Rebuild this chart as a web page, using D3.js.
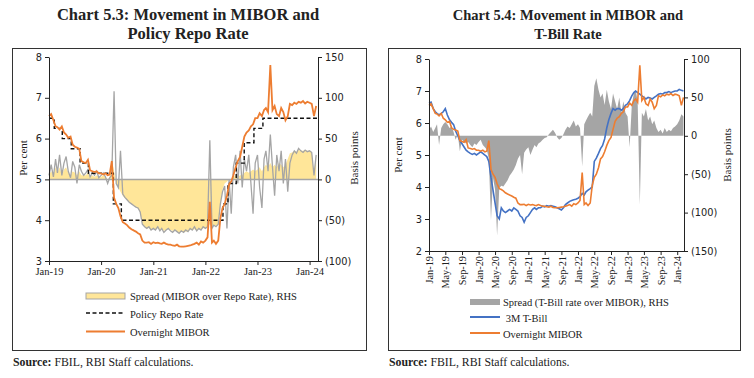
<!DOCTYPE html>
<html lang="en">
<head>
    <meta charset="UTF-8">
    <title>Chart 5.3 / 5.4</title>
    <script src="https://d3js.org/d3.v7.min.js"></script>
    <style>
        body { margin: 0; background: #fff; }
        .serif { font-family: "Liberation Serif", "DejaVu Serif", serif; }
        .axis path, .axis line { stroke: #222; }
        .axis text { fill: #222; }
    </style>
</head>
<body>
<svg width="754" height="378"></svg>

<script>
    const svg = d3.select('svg');

    // half-monthly observation dates (1st and 16th), Jan 2019 .. Feb 2024
    const obsDates = d3.range(124).map(i => new Date(2019, Math.floor(i / 2), i % 2 ? 16 : 1));

    // policy repo rate changes
    const repoDates = ['2019-01-01', '2019-02-07', '2019-04-04', '2019-06-06', '2019-08-07', '2019-10-04',
        '2020-03-27', '2020-05-22', '2022-05-04', '2022-06-08', '2022-08-05', '2022-09-30',
        '2022-12-07', '2023-02-08', '2024-02-29'];
    const repoRate = [6.50, 6.25, 6.00, 5.75, 5.40, 5.15, 4.40, 4.00, 4.40, 4.90, 5.40, 5.90, 6.25, 6.50, 6.50];

    // overnight MIBOR, per cent
    const miborRate = [
        6.55, 6.60, 6.45, 6.30, 6.28, 6.22, 6.30, 6.15, 6.10, 6.02, 6.05, 5.85, 5.80, 5.78, 5.75, 5.45, 5.42, 5.40, 5.48, 5.22, 5.20, 5.18, 5.20, 5.15,
        5.15, 5.12, 5.15, 5.10, 5.12, 5.45, 4.55, 4.40, 4.30, 4.10, 3.95, 3.92, 3.88, 3.82, 3.78, 3.75, 3.72, 3.68, 3.65, 3.50, 3.45, 3.45, 3.46, 3.42,
        3.46, 3.44, 3.45, 3.43, 3.42, 3.45, 3.42, 3.40, 3.40, 3.38, 3.37, 3.40, 3.36, 3.35, 3.35, 3.36, 3.37, 3.38, 3.40, 3.42, 3.45, 3.40, 3.48, 3.45,
        3.50, 3.58, 4.45, 3.45, 3.50, 3.42, 3.50, 4.05, 4.30, 4.40, 4.60, 4.88, 4.95, 5.10, 5.30, 5.45, 5.55, 5.80, 6.05, 6.15, 6.20, 6.30, 6.35, 6.50,
        6.50, 6.62, 6.55, 6.70, 6.75, 6.65, 7.80, 6.70, 6.80, 6.60, 6.55, 6.75, 6.65, 6.45, 6.55, 6.85, 6.82, 6.88, 6.85, 6.90, 6.88, 6.92, 6.86, 6.90,
        6.88, 6.85, 6.55, 6.80
    ];

    // 3M T-Bill, per cent
    const tbillRate = [
        6.62, 6.65, 6.45, 6.35, 6.30, 6.25, 6.30, 6.35, 6.45, 6.25, 6.10, 6.02, 5.95, 5.75, 5.60, 5.45, 5.35, 5.25, 5.15, 5.10, 5.05, 5.02, 5.05, 5.00,
        5.05, 5.10, 5.05, 5.00, 4.95, 4.80, 4.30, 3.90, 3.50, 3.10, 3.00, 3.35, 3.25, 3.20, 3.25, 3.30, 3.25, 3.35, 3.30, 3.25, 3.10, 3.05, 2.90, 3.05,
        3.10, 3.20, 3.30, 3.35, 3.30, 3.35, 3.35, 3.40, 3.38, 3.42, 3.40, 3.42, 3.40, 3.38, 3.35, 3.32, 3.28, 3.35, 3.45, 3.50, 3.55, 3.58, 3.60, 3.62,
        3.65, 3.70, 3.80, 3.75, 3.85, 3.90, 3.95, 4.00, 4.80, 4.90, 5.05, 5.20, 5.30, 5.50, 5.85, 6.10, 6.30, 6.45, 6.40, 6.45, 6.45, 6.40, 6.45, 6.55,
        6.60, 6.70, 6.85, 6.95, 7.00, 6.95, 6.90, 6.85, 6.80, 6.75, 6.80, 6.78, 6.75, 6.80, 6.85, 6.90, 6.92, 6.90, 6.95, 6.95, 6.98, 6.95, 6.98, 7.00,
        7.00, 7.05, 7.02, 7.00
    ];

    // spread of MIBOR over repo rate, basis points (filled area)
    const repoSpreadArea = [
        5, 10, 5, 15, 8, 15, 5, 12, 15, 8, 5, 10, 8, 5, 10, 5, 5, 5, 8, 3, 5, 3, 5, 3,
        3, 5, 3, 0, 3, 25, 10, -5, -10, -15, -20, -23, -26, -28, -30, -32, -34, -36, -40, -55, -58, -60, -60, -62,
        -60, -61, -60, -62, -61, -63, -62, -61, -62, -63, -63, -64, -65, -64, -65, -64, -64, -62, -62, -61, -62, -61, -62, -60,
        -60, -58, -55, -58, -56, -57, -55, -30, -12, -5, -3, 0, 0, 3, 5, 3, 5, 5, 8, 10, 8, 10, 12, 10,
        12, 15, 10, 15, 18, 15, 20, 15, 18, 15, 20, 18, 15, 18, 25, 32, 33, 35, 34, 36, 35, 35, 36, 35,
        35, 34, 5, 30
    ];

    // same spread, daily-style line (grey), basis points
    const repoSpreadLine = [
        5, 18, 3, 25, 8, 30, 5, 20, 28, 10, 2, 22, 15, -5, 18, 10, 5, 8, 12, 3, 8, 5, 10, 2,
        5, 8, 3, -5, 2, 5, 108, -5, -10, 35, -18, -22, -25, -28, -30, -32, -34, -35, -40, -55, -58, -60, -58, -62,
        -60, -62, -58, -63, -60, -65, -62, -60, -63, -65, -62, -64, -66, -63, -65, -62, -64, -60, -62, -58, -63, -60, -62, -58,
        -60, -58, 48, -60, -56, -58, -55, -30, -15, -8, -60, 0, -42, 15, 30, -5, 35, -10, 25, 10, 30, -5, -42, 20,
        30, -10, -35, 25, 35, 10, 55, 15, -20, 30, 10, 35, -5, 25, -15, 20, 30, 35, 32, 38, 35, 33, 36, 34,
        35, 33, 5, 30
    ];

    // spread of T-Bill rate over MIBOR, basis points
    const tbillSpread = [
        8, 12, 5, 10, 15, -12, 10, 15, 18, 15, 10, 12, 5, -5, 2, -20, -5, -8, -10, -8, -12, -15, -10, -12,
        -8, -5, -12, -15, -18, -30, -110, -55, -70, -130, -68, -65, -66, -62, -58, -52, -48, -44, -38, -30, -25, -50, -22, -18,
        -15, -25, -18, -12, -15, -10, -8, -5, -3, -2, 2, 5, 8, 4, -2, -5, -3, 2, 8, 12, 10, 15, 20, 12,
        15, 10, -40, 15, 20, 25, 30, 25, 65, 75, 60, 50, 55, 40, 60, 45, 35, 55, 45, 35, 50, 30, 45, 30,
        25, -15, 40, 55, 60, 45, -90, 30, 25, 35, 20, 25, 15, 20, 10, 5, 8, 3, 10, 5, 8, 6, 10, 12,
        15, 20, 28, 25
    ];

    const yearTicks = [2019, 2020, 2021, 2022, 2023, 2024];
    const leftTitle = ['Chart 5.3: Movement in MIBOR and', 'Policy Repo Rate'];
    const rightTitle = ['Chart 5.4: Movement in MIBOR and', 'T-Bill Rate'];

    const orange = '#ED7D31';
    const blue = '#4472C4';
    const grey = '#A5A5A5';
    const yellow = '#FFE699';
    const fmtRhs = d => d < 0 ? '(' + (-d) + ')' : d;
    const series = vals => vals.map((v, i) => ({ date: obsDates[i], v: v }));

    // panel frames
    svg.append('rect').attr('x', 12.5).attr('y', 48.5).attr('width', 354).attr('height', 302)
        .attr('fill', 'none').attr('stroke', '#333');
    svg.append('rect').attr('x', 388.5).attr('y', 48.5).attr('width', 352).attr('height', 302)
        .attr('fill', 'none').attr('stroke', '#333');

    function title(lines, cx, size) {
        lines.forEach((t, i) => {
            svg.append('text').attr('class', 'serif')
                .attr('x', cx).attr('y', 20 + i * 19)
                .attr('text-anchor', 'middle')
                .attr('font-size', size).attr('font-weight', 'bold')
                .attr('fill', '#222')
                .text(t);
        });
    }

    function sideLabel(text, x, y) {
        svg.append('text').attr('class', 'serif')
            .attr('transform', `translate(${x},${y}) rotate(-90)`)
            .attr('text-anchor', 'middle').attr('font-size', 11).attr('fill', '#222')
            .text(text);
    }

    function source(x) {
        const t = svg.append('text').attr('class', 'serif')
            .attr('x', x).attr('y', 366).attr('font-size', 11.8).attr('fill', '#222');
        t.append('tspan').attr('font-weight', 'bold').text('Source:');
        t.append('tspan').text(' FBIL, RBI Staff calculations.');
    }

    function styleNumAxis(g) {
        g.attr('class', 'axis').attr('font-family', '"DejaVu Sans", Verdana, sans-serif').attr('font-size', 9.8);
    }

    // ---------------- Chart 5.3 ----------------
    const xL = d3.scaleTime().domain([new Date(2019, 0, 1), new Date(2024, 1, 29)]).range([49, 318]);
    const yL = d3.scaleLinear().domain([3, 8]).range([261, 57]);
    const yLr = d3.scaleLinear().domain([-100, 150]).range([261, 57]);

    svg.append('path')
        .datum(series(repoSpreadArea))
        .attr('fill', yellow)
        .attr('d', d3.area().x(d => xL(d.date)).y0(yLr(0)).y1(d => yLr(d.v)));

    svg.append('path')
        .datum(series(repoSpreadLine))
        .attr('fill', 'none').attr('stroke', grey).attr('stroke-width', 1.3)
        .attr('d', d3.line().x(d => xL(d.date)).y(d => yLr(d.v)));

    svg.append('line')
        .attr('x1', xL.range()[0]).attr('x2', xL.range()[1])
        .attr('y1', yLr(0)).attr('y2', yLr(0))
        .attr('stroke', grey).attr('stroke-width', 1.5);

    const repoData = repoDates.map((d, i) => ({ date: d3.timeParse('%Y-%m-%d')(d), v: repoRate[i] }));
    svg.append('path')
        .datum(repoData)
        .attr('fill', 'none').attr('stroke', '#111').attr('stroke-width', 1.4)
        .attr('stroke-dasharray', '4,2.5')
        .attr('d', d3.line().curve(d3.curveStepAfter).x(d => xL(d.date)).y(d => yL(d.v)));

    svg.append('path')
        .datum(series(miborRate))
        .attr('fill', 'none').attr('stroke', orange).attr('stroke-width', 1.8)
        .attr('d', d3.line().x(d => xL(d.date)).y(d => yL(d.v)));

    svg.append('g').attr('transform', 'translate(49,0)')
        .call(d3.axisLeft(yL).ticks(5).tickSize(4).tickSizeOuter(0)).call(styleNumAxis);
    svg.append('g').attr('transform', 'translate(318,0)')
        .call(d3.axisRight(yLr).tickValues([-100, -50, 0, 50, 100, 150]).tickFormat(fmtRhs).tickSize(4).tickSizeOuter(0))
        .call(styleNumAxis);
    svg.append('g').attr('transform', 'translate(0,261)').attr('class', 'axis serif')
        .call(d3.axisBottom(xL).tickValues(yearTicks.map(y => new Date(y, 0, 1)))
            .tickFormat(d3.timeFormat('%b-%y')).tickSize(4).tickSizeOuter(0))
        .attr('font-family', null).attr('font-size', 10.5);

    title(leftTitle, 188, 16.5);
    sideLabel('Per cent', 27, 158);
    sideLabel('Basis points', 358, 158);

    // legend 5.3
    svg.append('rect').attr('x', 86).attr('y', 293).attr('width', 39).attr('height', 6)
        .attr('fill', yellow).attr('stroke', grey).attr('stroke-width', 1);
    svg.append('line').attr('x1', 86).attr('x2', 125).attr('y1', 313).attr('y2', 313)
        .attr('stroke', '#111').attr('stroke-width', 1.6).attr('stroke-dasharray', '4,2.5');
    svg.append('line').attr('x1', 86).attr('x2', 125).attr('y1', 331.5).attr('y2', 331.5)
        .attr('stroke', orange).attr('stroke-width', 2);
    ['Spread (MIBOR over Repo Rate), RHS', 'Policy Repo Rate', 'Overnight MIBOR'].forEach((t, i) => {
        svg.append('text').attr('class', 'serif').attr('x', 130).attr('y', 300 + i * 18)
            .attr('font-size', 10.5).attr('fill', '#222').text(t);
    });
    source(13);

    // ---------------- Chart 5.4 ----------------
    const xR = d3.scaleTime().domain([new Date(2019, 0, 1), new Date(2024, 1, 20)]).range([429, 684]);
    const yR = d3.scaleLinear().domain([2, 8]).range([251, 59]);
    const yRr = d3.scaleLinear().domain([-150, 100]).range([251, 59]);

    svg.append('path')
        .datum(series(tbillSpread))
        .attr('fill', grey)
        .attr('d', d3.area().x(d => xR(d.date)).y0(yRr(0)).y1(d => yRr(d.v)));

    svg.append('path')
        .datum(series(tbillRate))
        .attr('fill', 'none').attr('stroke', blue).attr('stroke-width', 1.6)
        .attr('d', d3.line().x(d => xR(d.date)).y(d => yR(d.v)));

    svg.append('path')
        .datum(series(miborRate))
        .attr('fill', 'none').attr('stroke', orange).attr('stroke-width', 1.6)
        .attr('d', d3.line().x(d => xR(d.date)).y(d => yR(d.v)));

    svg.append('g').attr('transform', 'translate(429,0)')
        .call(d3.axisLeft(yR).ticks(6).tickSize(4).tickSizeOuter(0)).call(styleNumAxis);
    svg.append('g').attr('transform', 'translate(684,0)')
        .call(d3.axisRight(yRr).tickValues([-150, -100, -50, 0, 50, 100]).tickFormat(fmtRhs).tickSize(4).tickSizeOuter(0))
        .call(styleNumAxis);

    const monthTicks = d3.timeMonth.every(4).range(new Date(2019, 0, 1), new Date(2024, 0, 2));
    const xAxisR = svg.append('g').attr('transform', 'translate(0,251)').attr('class', 'axis serif')
        .call(d3.axisBottom(xR).tickValues(monthTicks).tickFormat(d3.timeFormat('%b-%y')).tickSize(4).tickSizeOuter(0))
        .attr('font-family', null).attr('font-size', 10.3);
    xAxisR.selectAll('text')
        .attr('x', -5).attr('y', 0).attr('dy', '0.35em')
        .attr('transform', 'rotate(-90)')
        .attr('text-anchor', 'end');

    title(rightTitle, 568, 14.5);
    sideLabel('Per cent', 402, 155);
    sideLabel('Basis points', 731, 155);

    // legend 5.4
    svg.append('rect').attr('x', 470).attr('y', 299).attr('width', 30).attr('height', 6).attr('fill', grey);
    svg.append('line').attr('x1', 470).attr('x2', 500).attr('y1', 317).attr('y2', 317)
        .attr('stroke', blue).attr('stroke-width', 2);
    svg.append('line').attr('x1', 470).attr('x2', 500).attr('y1', 333).attr('y2', 333)
        .attr('stroke', orange).attr('stroke-width', 2);
    ['Spread (T-Bill rate over MIBOR), RHS', ' 3M T-Bill', 'Overnight MIBOR'].forEach((t, i) => {
        svg.append('text').attr('class', 'serif').attr('x', 503).attr('y', 306 + i * 16)
            .attr('font-size', 10.5).attr('fill', '#222').attr('xml:space', 'preserve').text(t);
    });
    source(389);
</script>
</body>
</html>
